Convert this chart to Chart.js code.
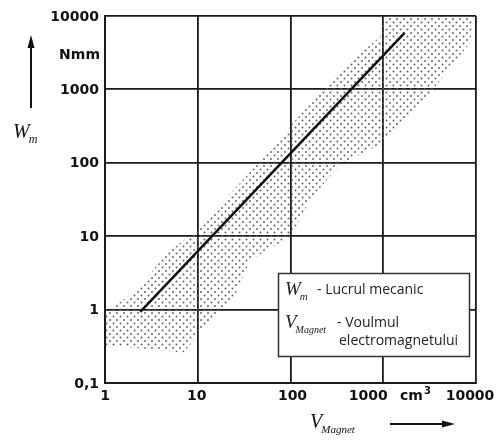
<!DOCTYPE html>
<html>
<head>
<meta charset="utf-8">
<script src="https://cdn.jsdelivr.net/npm/chart.js@4"></script>
<style>
  html, body { margin: 0; padding: 0; background: #fff; }
  #wrap { width: 501px; height: 443px; }
</style>
</head>
<body>
<div id="wrap"><canvas id="WM_CHART"></canvas></div>
<script>
// decade ticks of the two log axes
const xTicks = [1, 10, 100, 1000, 10000];
const xTickLabels = ['1', '10', '100', '1000', '10000'];
const yTicks = [0.1, 1, 10, 100, 1000, 10000];
const yTickLabels = ['0,1', '1', '10', '100', '1000', '10000'];

// main line W_m over V_Magnet
const lineV = [2.4, 1700];
const lineW = [0.93, 5900];

// dotted scatter band, outline (clockwise)
const bandV = [1, 2.2, 4.7, 10.6, 60, 287, 920, 1000, 9300, 8600, 3400, 1000, 370, 287, 162, 117, 99, 36.6, 24, 18.7, 11.4, 7, 1];
const bandW = [0.9, 1.85, 5.9, 13.3, 149, 1476, 5200, 10000, 10000, 4300, 980, 186, 100, 73, 31, 14.2, 9.8, 4.7, 1.35, 1.0, 0.53, 0.26, 0.33];

function dotPattern() {
    const c = document.createElement('canvas');
    c.width = 7; c.height = 7;
    const g = c.getContext('2d');
    g.fillStyle = '#5e5e5e';
    g.beginPath(); g.arc(1.5, 1.5, 0.95, 0, Math.PI * 2); g.fill();
    g.beginPath(); g.arc(5, 5, 0.95, 0, Math.PI * 2); g.fill();
    return g.createPattern(c, 'repeat');
}

function arrow(ctx, x1, y1, x2, y2) {
    const a = Math.atan2(y2 - y1, x2 - x1);
    ctx.beginPath();
    ctx.moveTo(x1, y1);
    ctx.lineTo(x2 - 10 * Math.cos(a), y2 - 10 * Math.sin(a));
    ctx.stroke();
    ctx.beginPath();
    ctx.moveTo(x2, y2);
    ctx.lineTo(x2 - 13 * Math.cos(a) + 3.5 * Math.sin(a), y2 - 13 * Math.sin(a) - 3.5 * Math.cos(a));
    ctx.lineTo(x2 - 13 * Math.cos(a) - 3.5 * Math.sin(a), y2 - 13 * Math.sin(a) + 3.5 * Math.cos(a));
    ctx.closePath();
    ctx.fill();
}

// sym + subscript in italic serif
function symbol(ctx, main, sub, x, y, size, subSize) {
    ctx.font = 'italic ' + size + 'px "Liberation Serif"';
    ctx.textAlign = 'left';
    ctx.textBaseline = 'alphabetic';
    ctx.fillText(main, x, y);
    const w = ctx.measureText(main).width;
    ctx.font = 'italic ' + subSize + 'px "Liberation Serif"';
    ctx.fillText(sub, x + w - 1, y + size * 0.25);
}

const textPlugin = {
    id: 'textPlugin',
    afterDraw(chart) {
        const ctx = chart.ctx;
        const xs = chart.scales.x, ys = chart.scales.y;
        ctx.save();
        ctx.fillStyle = '#111';
        ctx.strokeStyle = '#111';

        // y tick labels
        ctx.font = 'bold 14px "DejaVu Sans"';
        ctx.textAlign = 'right';
        ctx.textBaseline = 'middle';
        yTicks.forEach((v, i) => ctx.fillText(yTickLabels[i], 99, ys.getPixelForValue(v) + 1));
        ctx.fillText('Nmm', 100, 55);

        // x tick labels ("1000" sits left to leave room for the unit)
        const nudge = [0, -1, 2, -15, -6];
        ctx.textAlign = 'center';
        xTicks.forEach((v, i) => ctx.fillText(xTickLabels[i], xs.getPixelForValue(v) + nudge[i], 396));
        ctx.textAlign = 'left';
        ctx.fillText('cm', 400, 396);
        ctx.font = 'bold 10px "DejaVu Sans"';
        ctx.fillText('3', 424, 391);

        // axis titles and arrows
        ctx.lineWidth = 2;
        symbol(ctx, 'W', 'm', 13, 138, 20, 12);
        arrow(ctx, 31, 108, 31, 35);
        symbol(ctx, 'V', 'Magnet', 310, 428, 20, 11);
        arrow(ctx, 390, 424, 455, 424);

        // legend box
        ctx.fillStyle = '#fff';
        ctx.fillRect(278, 273, 191, 83);
        ctx.lineWidth = 1.5;
        ctx.strokeStyle = '#333';
        ctx.strokeRect(278.5, 273.5, 191, 83);
        ctx.fillStyle = '#222';
        symbol(ctx, 'W', 'm', 285, 295, 19, 11);
        symbol(ctx, 'V', 'Magnet', 285, 328, 19, 10);
        ctx.font = '14px "Open Sans"';
        ctx.textAlign = 'left';
        ctx.fillText('- Lucrul mecanic', 317, 294);
        ctx.fillText('- Voulmul', 337, 327);
        ctx.fillText('electromagnetului', 339, 345);
        ctx.restore();
    }
};

const wmChart = new Chart(document.getElementById('WM_CHART').getContext('2d'), {
    type: 'scatter',
    data: {
        datasets: [{
            label: 'Band',
            data: bandV.map((v, i) => ({ x: v, y: bandW[i] })),
            showLine: true,
            fill: 'shape',
            backgroundColor: dotPattern(),
            borderWidth: 0,
            pointRadius: 0,
            tension: 0,
            order: 2
        }, {
            label: 'W_m',
            data: lineV.map((v, i) => ({ x: v, y: lineW[i] })),
            showLine: true,
            borderColor: '#111',
            borderWidth: 2.5,
            pointRadius: 0,
            fill: false,
            order: 1
        }]
    },
    options: {
        responsive: true,
        maintainAspectRatio: false,
        animation: false,
        layout: { padding: { left: 105, right: 25, top: 16, bottom: 60 } },
        plugins: { legend: { display: false }, tooltip: { enabled: false } },
        scales: {
            x: {
                type: 'logarithmic',
                min: 1, max: 10000,
                afterBuildTicks: s => { s.ticks = xTicks.map(v => ({ value: v })); },
                ticks: { display: false },
                grid: { color: '#1a1a1a', lineWidth: 1.8, drawTicks: false },
                border: { display: true, color: '#1a1a1a', width: 2 }
            },
            y: {
                type: 'logarithmic',
                min: 0.1, max: 10000,
                afterBuildTicks: s => { s.ticks = yTicks.map(v => ({ value: v })); },
                ticks: { display: false },
                grid: { color: '#1a1a1a', lineWidth: 1.8, drawTicks: false },
                border: { display: true, color: '#1a1a1a', width: 2 }
            }
        }
    },
    plugins: [textPlugin]
});
</script>
</body>
</html>
